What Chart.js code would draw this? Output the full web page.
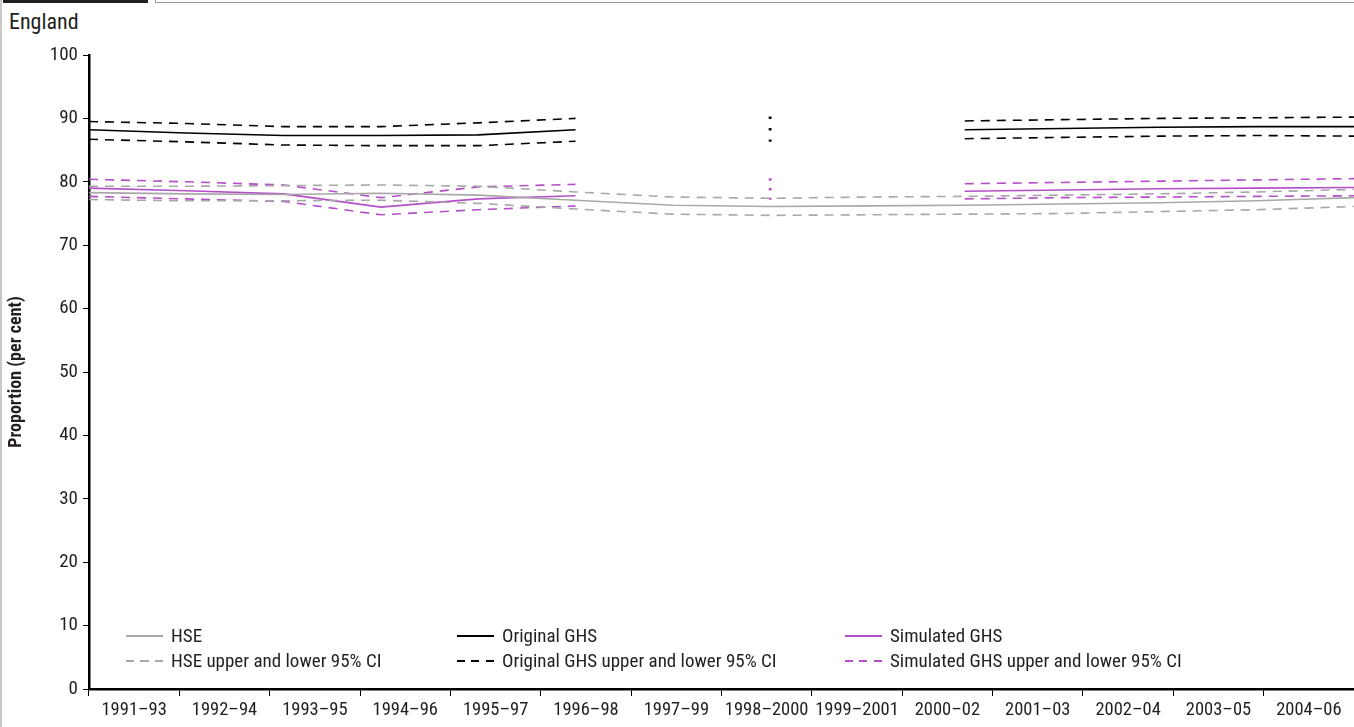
<!DOCTYPE html>
<html>
<head>
<meta charset="utf-8">
<script src="https://cdn.jsdelivr.net/npm/chart.js@4.4.1/dist/chart.umd.min.js"></script>
<style>
  html, body { margin: 0; padding: 0; background: #fff; }
  body { width: 1354px; height: 727px; position: relative; overflow: hidden;
         font-family: 'Liberation Sans Narrow', 'Roboto Condensed', 'DejaVu Sans Condensed', 'Open Sans', sans-serif; }
  #wrap { position: absolute; left: 0; top: 0; width: 1354px; height: 727px; }
  .bar-black { position: absolute; left: 3px; top: 0; width: 145px; height: 3px; background: #231f20; }
  .bar-box { position: absolute; left: 155px; top: -4px; width: 1200px; height: 5px; border: 1px solid #9a9a9a; background: #fff; }
  .left-rule { position: absolute; left: 0; top: 0; width: 2px; height: 727px; background: #c8c8c8; }
  .place { position: absolute; left: 9px; top: 9px; font-size: 22px; line-height: 26px; color: #231f20; }
  .leg { position: absolute; font-size: 19px; color: #231f20; height: 22px; line-height: 22px; white-space: nowrap; }
  .leg .s { display: inline-block; width: 37px; height: 2px; vertical-align: middle; margin-right: 8px; position: relative; top: -1px; }
  .solid-grey { background: #a8a8a8; }
  .solid-black { background: #000; }
  .solid-pink { background: #b44fc8; }
  .dash-grey { background: repeating-linear-gradient(90deg, #a8a8a8 0 8px, transparent 8px 14.5px); }
  .dash-black { background: repeating-linear-gradient(90deg, #000 0 8px, transparent 8px 14.5px); }
  .dash-pink { background: repeating-linear-gradient(90deg, #b44fc8 0 8px, transparent 8px 14.5px); }
</style>
</head>
<body>
<div class="left-rule"></div>
<div class="bar-black"></div>
<div class="bar-box"></div>
<div class="place">England</div>
<div id="wrap"><canvas id="c" width="1354" height="727"></canvas></div>

<div class="leg" style="left:126px; top:625px;"><span class="s solid-grey"></span>HSE</div>
<div class="leg" style="left:126px; top:650px;"><span class="s dash-grey"></span>HSE upper and lower 95% CI</div>
<div class="leg" style="left:457px; top:625px;"><span class="s solid-black"></span>Original GHS</div>
<div class="leg" style="left:457px; top:650px;"><span class="s dash-black"></span>Original GHS upper and lower 95% CI</div>
<div class="leg" style="left:845px; top:625px;"><span class="s solid-pink"></span>Simulated GHS</div>
<div class="leg" style="left:845px; top:650px;"><span class="s dash-pink"></span>Simulated GHS upper and lower 95% CI</div>

<script>
const categories = ['1991–93','1992–94','1993–95','1994–96','1995–97','1996–98','1997–99','1998–2000','1999–2001','2000–02','2001–03','2002–04','2003–05','2004–06'];
const yTicks = [0,10,20,30,40,50,60,70,80,90,100];

const hse      = [78.3, 78.1, 78.0, 78.2, 77.9, 77.1, 76.3, 76.1, 76.2, 76.3, 76.5, 76.7, 77.0, 77.5];
const hseUpper = [79.3, 79.3, 79.4, 79.5, 79.3, 78.4, 77.6, 77.4, 77.6, 77.7, 77.9, 78.1, 78.4, 78.8];
const hseLower = [77.2, 77.0, 77.0, 77.1, 76.6, 75.7, 74.9, 74.7, 74.8, 74.9, 75.0, 75.3, 75.6, 76.1];

const ghs      = [88.2, 87.7, 87.3, 87.3, 87.4, 88.2, null, null, null, 88.2, 88.4, 88.6, 88.7, 88.7];
const ghsUpper = [89.5, 89.2, 88.7, 88.7, 89.3, 90.0, null, null, null, 89.6, 89.8, 90.0, 90.1, 90.2];
const ghsLower = [86.7, 86.3, 85.8, 85.7, 85.7, 86.4, null, null, null, 86.8, 87.0, 87.2, 87.3, 87.2];

const sim      = [79.0, 78.6, 78.1, 76.0, 77.3, 77.8, null, null, null, 78.5, 78.7, 78.9, 79.0, 79.1];
const simUpper = [80.4, 80.0, 79.5, 77.5, 79.2, 79.6, null, null, null, 79.7, 79.9, 80.1, 80.3, 80.5];
const simLower = [77.7, 77.3, 76.9, 74.8, 75.6, 76.2, null, null, null, 77.3, 77.5, 77.6, 77.7, 77.8];

const breakCategory = '1998–2000';
const ghsBreak = [90.3, 86.3];
const simBreak = [80.55, 77.15];

const GREY = '#a8a8a8', BLACK = '#000000', PINK = '#b44fc8';
const FONT = "'Liberation Sans Narrow', 'Roboto Condensed', 'DejaVu Sans Condensed', 'Open Sans', sans-serif";

function line(data, color, dashed) {
  return { data, borderColor: color, borderWidth: 1.6, borderDash: dashed ? [9, 7] : [],
           pointRadius: 0, fill: false, tension: 0, spanGaps: false, xAxisID: 'x', yAxisID: 'y' };
}
function breakLine(vals, color, dash) {
  return { data: vals.map(v => ({ x: breakCategory, y: v })), borderColor: color, borderWidth: 2.8,
           borderDash: dash, borderCapStyle: 'butt', pointRadius: 0, fill: false, xAxisID: 'x', yAxisID: 'y' };
}

new Chart(document.getElementById('c'), {
  type: 'line',
  data: {
    labels: categories,
    datasets: [
      line(hseUpper, GREY, true), line(hseLower, GREY, true), line(hse, GREY, false),
      line(simUpper, PINK, true), line(simLower, PINK, true), line(sim, PINK, false),
      line(ghsUpper, BLACK, true), line(ghsLower, BLACK, true), line(ghs, BLACK, false),
      breakLine(ghsBreak, BLACK, [2.4, 9.1]), breakLine(simBreak, PINK, [2.4, 7.3])
    ]
  },
  options: {
    responsive: false, animation: false, events: [],
    layout: { padding: { top: 55, right: 0, bottom: 0, left: 0 } },
    plugins: { legend: { display: false }, tooltip: { enabled: false } },
    scales: {
      x: { type: 'category', display: false, offset: false },
      x2: {
        type: 'category', labels: categories, position: 'bottom', offset: true,
        grid: { offset: true, drawOnChartArea: false, drawTicks: true, tickLength: 7, color: BLACK, lineWidth: 1 },
        border: { display: true, color: BLACK, width: 2.5 },
        ticks: { color: '#231f20', font: { family: FONT, size: 18.5 }, padding: 3, maxRotation: 0, autoSkip: false },
        afterFit: s => { s.height = 38; }
      },
      y: {
        min: 0, max: 100,
        afterBuildTicks: s => { s.ticks = yTicks.map(v => ({ value: v })); },
        grid: { drawOnChartArea: false, drawTicks: true, tickLength: 6, color: BLACK, lineWidth: 1 },
        border: { display: true, color: BLACK, width: 2.5 },
        ticks: { color: '#231f20', font: { family: FONT, size: 19 }, padding: 5 },
        title: { display: true, text: 'Proportion (per cent)', color: '#231f20',
                 font: { family: FONT, size: 18, weight: 'bold' }, padding: { top: 6, bottom: 0 } },
        afterFit: s => { s.width = 89; }
      }
    }
  }
});
</script>
</body>
</html>
